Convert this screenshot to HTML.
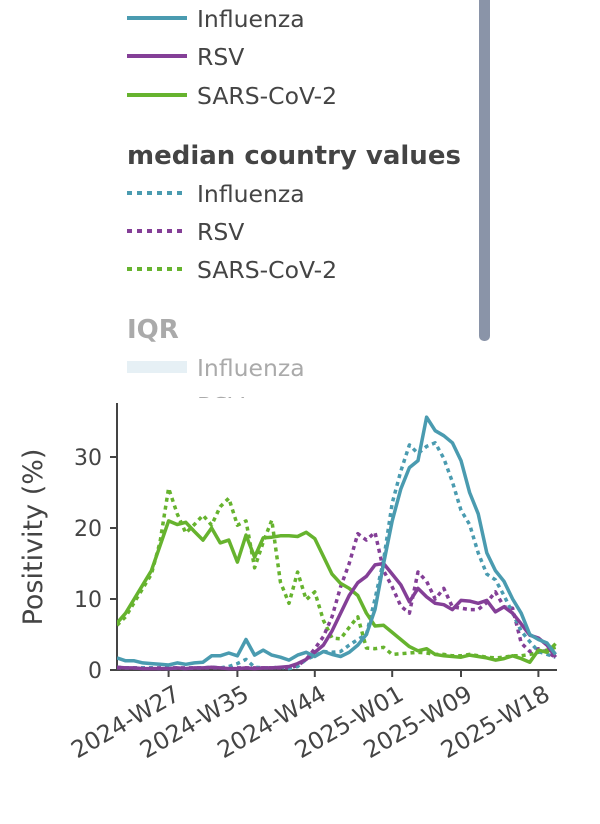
<!DOCTYPE html>
<html><head><meta charset="utf-8"><style>
body{margin:0;background:#fff;width:600px;height:819px;overflow:hidden;font-family:"Liberation Sans","DejaVu Sans",sans-serif}
svg text{font-family:"DejaVu Sans","Liberation Sans",sans-serif}
</style></head><body>
<svg id="chart" width="600" height="819">
  <defs><clipPath id="leg"><rect x="0" y="0" width="600" height="398"/></clipPath>
  <clipPath id="plot"><rect x="117" y="395" width="445" height="280"/></clipPath></defs>
  <g clip-path="url(#leg)">
    <g><line x1="127" y1="18" x2="187" y2="18" stroke="#4a9bb0" stroke-width="4"/><text x="197" y="27" font-size="23.5" fill="#444">Influenza</text></g>
    <g><line x1="127" y1="56" x2="187" y2="56" stroke="#843f97" stroke-width="4"/><text x="197" y="65" font-size="23.5" fill="#444">RSV</text></g>
    <g><line x1="127" y1="95" x2="187" y2="95" stroke="#66b32e" stroke-width="4"/><text x="197" y="104" font-size="23.5" fill="#444">SARS-CoV-2</text></g>
    <text x="127" y="164" font-size="26" font-weight="bold" fill="#444">median country values</text>
    <g><line x1="127" y1="193" x2="187" y2="193" stroke="#4a9bb0" stroke-width="4" stroke-dasharray="5,5"/><text x="197" y="202" font-size="23.5" fill="#444">Influenza</text></g>
    <g><line x1="127" y1="231" x2="187" y2="231" stroke="#843f97" stroke-width="4" stroke-dasharray="5,5"/><text x="197" y="240" font-size="23.5" fill="#444">RSV</text></g>
    <g><line x1="127" y1="269" x2="187" y2="269" stroke="#66b32e" stroke-width="4" stroke-dasharray="5,5"/><text x="197" y="278" font-size="23.5" fill="#444">SARS-CoV-2</text></g>
    <text x="127" y="338" font-size="26" font-weight="bold" fill="#aaa">IQR</text>
    <g><rect x="127" y="361" width="60" height="12" fill="#e6f0f5"/><text x="197" y="376" font-size="23.5" fill="#aaa">Influenza</text></g>
    <g><rect x="127" y="399" width="60" height="12" fill="#f0e8f2"/><text x="197" y="414" font-size="23.5" fill="#aaa">RSV</text></g>
  </g>
  <rect x="479" y="-8" width="11" height="349" rx="5" fill="#8a94a8"/>
  <g id="axes"></g>
  <g id="series" clip-path="url(#plot)"></g>
  <text transform="translate(42,537) rotate(-90)" text-anchor="middle" font-size="27" fill="#444">Positivity (%)</text>
</svg>
<script>
const firstWeek = 21;
const fluSolid = [1.7,1.3,1.3,1.0,0.9,0.8,0.7,1.0,0.8,1.0,1.1,2.0,2.0,2.4,2.0,4.3,2.1,2.8,2.1,1.8,1.4,2.1,2.5,1.9,2.6,2.2,1.9,2.5,3.5,5,8.5,15,21,25.5,28.5,29.5,35.6,33.7,33,32,29.5,25,22,16.5,14,12.5,10,8,5,4.3,3.8,2.2];
const fluMedian = [0.4,0.3,0.3,0.3,0.3,0.2,0.2,0.3,0.2,0.3,0.3,0.4,0.3,0.5,0.9,1.5,0.4,0.3,0.3,0.4,0.2,0.5,1.5,2,2.6,2.5,2.6,3.5,4.3,5,10,15.5,23.5,28,31.7,30.5,31.5,32,29.8,26.5,22.5,20.5,16.5,13.5,12.7,10.5,8,5.5,4,2.6,2.2,1.8];
const rsvSolid = [0.4,0.3,0.3,0.2,0.2,0.2,0.2,0.3,0.2,0.3,0.3,0.4,0.3,0.2,0.2,0.3,0.2,0.3,0.3,0.4,0.5,0.9,1.5,2.5,3.5,5.5,8,10.5,12.3,13.2,14.8,15,13.5,12,9.6,11.5,10.3,9.4,9.2,8.5,9.8,9.7,9.4,9.8,8.2,8.9,8,6.5,4.9,4.5,3.5,1.8];
const rsvMedian = [0.3,0.3,0.3,0.3,0.3,0.3,0.3,0.3,0.3,0.3,0.3,0.3,0.3,0.3,0.3,0.3,0.3,0.3,0.3,0.3,0.3,0.6,1.5,3,4.7,7.5,11.7,15,19.2,18.3,19.4,14,11.7,9,8,13.8,12.5,10,11.5,8.9,8.7,8.5,8.5,9.5,11,8.9,8.7,3.8,2.6,3,2.5,1.8];
const covSolid = [6.6,8,10,12,14,17.5,21,20.5,20.8,19.5,18.3,20,17.9,18.3,15.2,19,15.9,18.6,18.7,18.9,18.9,18.8,19.4,18.5,16,13.5,12.2,11.5,10.5,8,6.2,6.3,5.3,4.3,3.3,2.7,3,2.2,2,1.9,1.8,2.1,1.9,1.7,1.4,1.6,2,1.6,1.1,2.8,2.5,3.7];
const covMedian = [6.3,7.5,9.5,11.5,13.5,18,25.6,22,19.3,20.5,21.8,20.4,23,24.2,20.4,21,14.4,18,21.1,12.4,9.4,13.8,9.9,11,7,4.5,4.4,6,7.5,3.1,3,3.2,2.2,2.3,2.4,2.5,2.4,2.2,2.2,2,2,2.2,2,1.8,1.7,1.8,2,2,2.2,2.5,2.8,3.2];
const yTicks = [0,10,20,30];
const xTickLabels = ["2024-W27","2024-W35","2024-W44","2025-W01","2025-W09","2025-W18"];
const xTickWeeks = [27,35,44,53,61,70];

const NS="http://www.w3.org/2000/svg";
const xs = w => 117 + (w - firstWeek) * 8.6;
const ys = v => 670 - v * 7.1;
const axes=document.getElementById('axes'), ser=document.getElementById('series');
function mk(tag,attrs,parent){const e=document.createElementNS(NS,tag);for(const k in attrs)e.setAttribute(k,attrs[k]);parent.appendChild(e);return e;}

let yl=mk('line',{x1:117,y1:403,x2:117,y2:671,stroke:'#444','stroke-width':2},axes);


let xl=mk('line',{x1:116,y1:670,x2:557,y2:670,stroke:'#444','stroke-width':2},axes);


yTicks.forEach(v=>{
  const t=mk('line',{x1:110,y1:ys(v),x2:117,y2:ys(v),stroke:'#444','stroke-width':2},axes);
  
  
  const l=mk('text',{x:102,y:ys(v)+8,'text-anchor':'end','font-size':22,fill:'#444'},axes);
  l.textContent=v;
  
  
});
xTickWeeks.forEach((w,i)=>{
  const x=xs(w);
  const t=mk('line',{x1:x,y1:670,x2:x,y2:677,stroke:'#444','stroke-width':2},axes);
  
  
  const l=mk('text',{transform:`translate(${x+4},${683}) rotate(-30)`,'text-anchor':'end','font-size':23.5,fill:'#444',y:18},axes);
  l.textContent=xTickLabels[i];
  
  
});
function line(vals,color,dash,name){
  const d=vals.map((v,i)=>(i?'L':'M')+xs(firstWeek+i).toFixed(1)+','+ys(v).toFixed(1)).join(' ');
  const p=mk('path',{d:d,fill:'none',stroke:color,'stroke-width':3.5,'stroke-linejoin':'round'},ser);
  if(dash)p.setAttribute('stroke-dasharray','4,4');
  
  
}
line(covMedian,'#66b32e',true,'sars-median-line');
line(rsvMedian,'#843f97',true,'rsv-median-line');
line(fluMedian,'#4a9bb0',true,'influenza-median-line');
line(covSolid,'#66b32e',false,'sars-line');
line(rsvSolid,'#843f97',false,'rsv-line');
line(fluSolid,'#4a9bb0',false,'influenza-line');
</script>
</body></html>
